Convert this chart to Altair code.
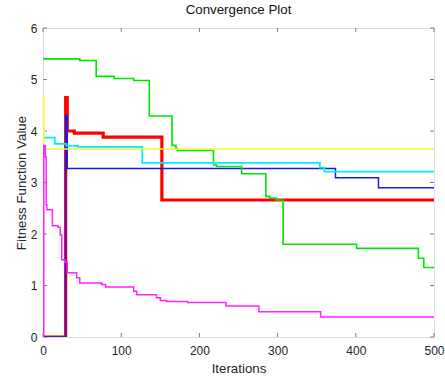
import altair as alt
import pandas as pd

# ---- data (step curves: x = iteration where value starts) ----
red_x = [0, 29, 31, 40, 77, 152, 500]
red_y = [0, 4.65, 4.00, 3.96, 3.88, 2.66, 2.66]

blue_x = [0, 29, 31, 374, 429, 500]
blue_y = [0, 4.30, 3.27, 3.09, 2.90, 2.90]

green_x = [0, 47, 68, 91, 116, 136, 165, 170, 172, 218, 222, 254, 285, 290, 298, 307, 401, 480, 487, 500]
green_y = [5.40, 5.37, 5.06, 5.02, 4.98, 4.29, 3.72, 3.66, 3.62, 3.34, 3.31, 3.17, 2.73, 2.70, 2.66, 1.80, 1.72, 1.53, 1.35, 1.35]

cyan_x = [0, 15, 30, 45, 127, 354, 360, 500]
cyan_y = [3.87, 3.75, 3.71, 3.69, 3.38, 3.29, 3.21, 3.21]

yellow_x = [0, 1, 500]
yellow_y = [4.67, 3.65, 3.65]

magenta_x = [0, 1, 3, 4, 5, 12, 19, 22, 24, 28, 31, 43, 47, 75, 80, 116, 120, 145, 150, 158, 185, 234, 276, 355, 500]
magenta_y = [0, 3.72, 3.50, 2.57, 2.47, 2.16, 2.13, 1.98, 1.50, 1.45, 1.25, 1.15, 1.05, 1.02, 0.97, 0.89, 0.82, 0.76, 0.71, 0.69, 0.67, 0.60, 0.49, 0.39, 0.39]

x_ticks = [0, 100, 200, 300, 400, 500]
y_ticks = [0, 1, 2, 3, 4, 5, 6]

series = [
    ("red", red_x, red_y, "#ff0000", 3.2),
    ("blue", blue_x, blue_y, "#1a1ae6", 1.5),
    ("green", green_x, green_y, "#00e600", 1.6),
    ("cyan", cyan_x, cyan_y, "#00f0f0", 1.8),
    ("yellow", yellow_x, yellow_y, "#f5f53a", 1.6),
    ("magenta", magenta_x, magenta_y, "#ff22ff", 1.5),
]

rows = []
for name, xs, ys, _, _ in series:
    for xv, yv in zip(xs, ys):
        rows.append({"s": name, "x": xv, "y": yv})
df = pd.DataFrame(rows)

W, H = 391, 309
FONT = "Liberation Sans"

xscale = alt.Scale(domain=[0, 500], nice=False, zero=False)
yscale = alt.Scale(domain=[0, 6], nice=False)

xaxis = alt.Axis(values=x_ticks, title="Iterations", ticks=False, tickSize=0, domain=False,
                 grid=False, labelPadding=17, labelBaseline="alphabetic", labelFont=FONT,
                 labelFontSize=12, labelColor="#262626", titleFont=FONT, titleFontSize=13.3,
                 titleFontWeight="normal", titleColor="#262626", titleY=35,
                 titleBaseline="alphabetic", labelFlush=False)
yaxis = alt.Axis(values=y_ticks, title="Fitness Function Value", ticks=False, tickSize=0,
                 domain=False, grid=False, labelPadding=6, labelFont=FONT, labelFontSize=12,
                 labelColor="#262626", titleFont=FONT, titleFontSize=13.3,
                 titleFontWeight="normal", titleColor="#262626", titleX=-18,
                 titleY=H / 2, titleBaseline="alphabetic", labelFlush=False)

X = lambda f: alt.X(f, scale=xscale, axis=xaxis)
Y = lambda f: alt.Y(f, scale=yscale, axis=yaxis)

base = alt.Chart(df)
layers = []
for name, _, _, col, sw in series:
    layers.append(
        base.transform_filter(alt.datum.s == name)
        .mark_line(interpolate="step-after", color=col, strokeWidth=sw, clip=True)
        .encode(x=X("x:Q"), y=Y("y:Q"))
    )

xt = alt.Chart(pd.DataFrame({"v": x_ticks}))
yt = alt.Chart(pd.DataFrame({"v": y_ticks}))
tick_col = "#808080"
TL = 4
tick_layers = [
    xt.mark_rule(color=tick_col, strokeWidth=1).encode(x=X("v:Q"), y=alt.value(H), y2=alt.value(H - TL)),
    xt.mark_rule(color=tick_col, strokeWidth=1).encode(x=X("v:Q"), y=alt.value(0), y2=alt.value(TL)),
    yt.mark_rule(color=tick_col, strokeWidth=1).encode(y=Y("v:Q"), x=alt.value(0), x2=alt.value(TL)),
    yt.mark_rule(color=tick_col, strokeWidth=1).encode(y=Y("v:Q"), x=alt.value(W), x2=alt.value(W - TL)),
]

chart = alt.layer(*tick_layers, *layers).properties(
    width=W,
    height=H,
    title=alt.TitleParams("Convergence Plot", font=FONT, fontSize=13.3, fontWeight="normal",
                          color="#111111", anchor="middle", offset=6),
    autosize=alt.AutoSizeParams(type="none"),
    padding={"left": 43, "top": 28, "right": 11, "bottom": 42},
).configure_view(stroke="#808080", strokeWidth=1).configure(background="white")

chart.save("out.html", embed_options={"renderer": "svg", "actions": False})
